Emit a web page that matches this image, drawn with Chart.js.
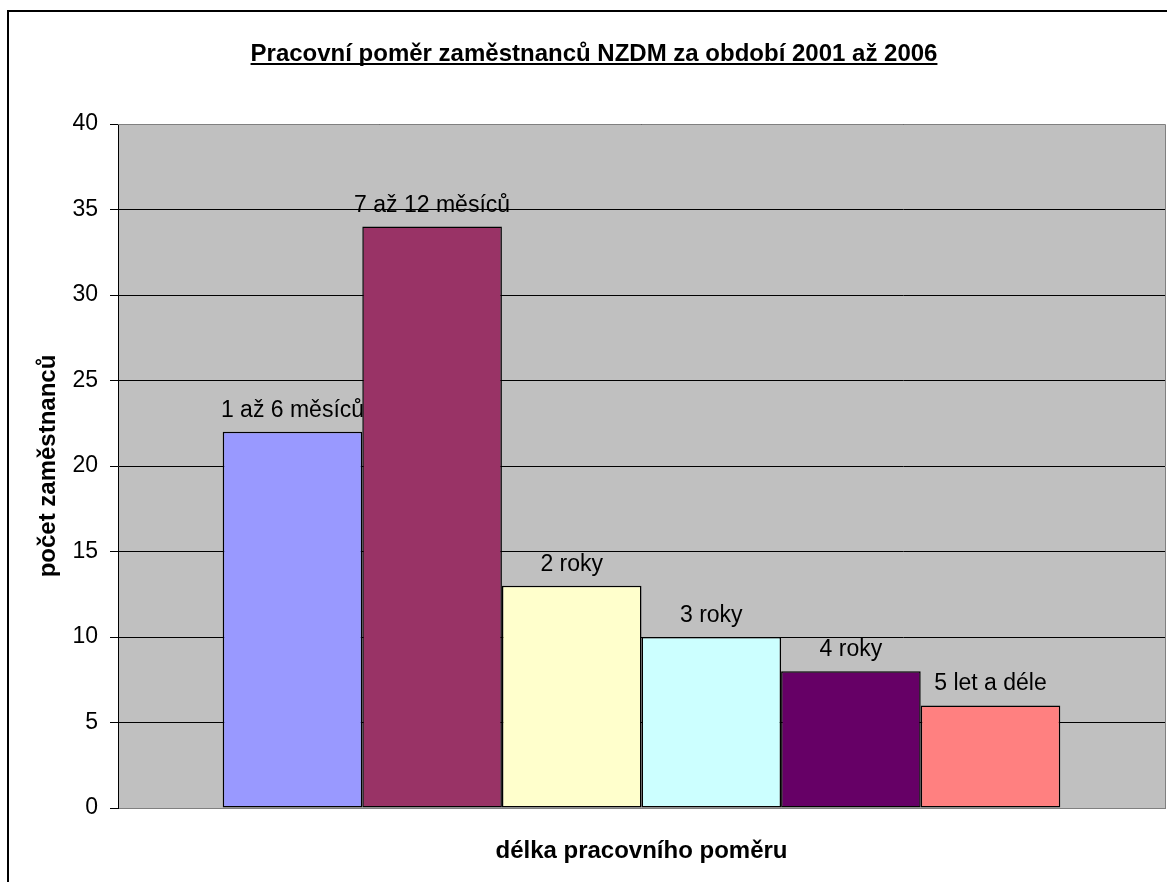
<!DOCTYPE html>
<html>
<head>
<meta charset="utf-8">
<script src="https://cdn.jsdelivr.net/npm/chart.js@4/dist/chart.umd.min.js"></script>
<style>
  html, body { margin: 0; padding: 0; background: #fff; }
  #wrap { width: 1167px; height: 882px; position: relative; }
</style>
</head>
<body>
<div id="wrap"><canvas id="myChart"></canvas></div>
<script>
// data
var seriesNames = ["1 až 6 měsíců", "7 až 12 měsíců", "2 roky", "3 roky", "4 roky", "5 let a déle"]
var seriesValues = [22, 34, 13, 10, 8, 6]
var seriesColors = ["#9999FF", "#993366", "#FFFFCC", "#CCFFFF", "#660066", "#FF8080"]
var yTicks = [0, 5, 10, 15, 20, 25, 30, 35, 40]

var chartTitle = "Pracovní poměr zaměstnanců NZDM za období 2001 až 2006"
var xTitle = "délka pracovního poměru"
var yTitle = "počet zaměstnanců"

var fontFamily = "'Liberation Sans', Arial, sans-serif"

var datasets = []
for (let i = 0; i < seriesNames.length; i++) {
    datasets.push({
        label: seriesNames[i],
        data: [seriesValues[i]],
        backgroundColor: seriesColors[i],
        borderColor: "#000",
        borderWidth: 1.5,
        borderSkipped: false,
        inflateAmount: 0,
        categoryPercentage: 0.8,
        barPercentage: 1
    })
}

// gray plot area, frame, titles and the series names above bars
var excelLook = {
    id: "excelLook",
    beforeDraw(chart) {
        var c = chart.ctx, a = chart.chartArea
        c.save()
        c.fillStyle = "#C0C0C0"
        c.fillRect(a.left, a.top, a.right - a.left, a.bottom - a.top)
        c.restore()
    },
    afterDatasetsDraw(chart) {
        var c = chart.ctx
        c.save()
        c.font = "23px " + fontFamily
        c.fillStyle = "#000"
        c.textAlign = "center"
        c.textBaseline = "alphabetic"
        chart.data.datasets.forEach(function (ds, i) {
            var bar = chart.getDatasetMeta(i).data[0]
            c.fillText(ds.label, bar.x, bar.y - 15)
        })
        c.restore()
    },
    afterDraw(chart) {
        var c = chart.ctx, a = chart.chartArea
        c.save()
        // plot frame (top, right, bottom) in gray
        c.strokeStyle = "#808080"
        c.lineWidth = 1
        c.beginPath()
        c.moveTo(a.left, a.top + 0.5)
        c.lineTo(a.right + 0.5, a.top + 0.5)
        c.lineTo(a.right + 0.5, a.bottom + 0.5)
        c.stroke()
        // outer chart border, cut off at right and bottom
        c.strokeStyle = "#000"
        c.lineWidth = 2
        c.beginPath()
        c.moveTo(8, chart.height)
        c.lineTo(8, 11)
        c.lineTo(chart.width, 11)
        c.stroke()
        // title, underlined
        c.fillStyle = "#000"
        c.font = "bold 24px " + fontFamily
        c.textAlign = "center"
        c.textBaseline = "alphabetic"
        var tx = 594, ty = 61
        c.fillText(chartTitle, tx, ty)
        var w = c.measureText(chartTitle).width
        c.fillRect(tx - w / 2, ty + 2, w, 2)
        // x axis title
        c.fillText(xTitle, (a.left + a.right) / 2, 858)
        // y axis title
        c.translate(55, (a.top + a.bottom) / 2)
        c.rotate(-Math.PI / 2)
        c.fillText(yTitle, 0, 0)
        c.restore()
    }
}

var ctx = document.getElementById("myChart").getContext("2d")
var myChart = new Chart(ctx, {
    type: "bar",
    data: {
        labels: [""],
        datasets: datasets
    },
    options: {
        responsive: true,
        maintainAspectRatio: false,
        animation: false,
        events: [],
        layout: {
            padding: { left: 8, top: 124, right: 2, bottom: 0 }
        },
        plugins: {
            legend: { display: false },
            title: { display: false },
            tooltip: { enabled: false }
        },
        scales: {
            x: {
                grid: { display: false, drawTicks: false },
                border: { display: true, color: "#808080", width: 1 },
                ticks: { display: false },
                afterFit: function (scale) { scale.height = 74 }
            },
            y: {
                min: 0,
                max: 40,
                afterBuildTicks: function (scale) {
                    scale.ticks = yTicks.map(function (v) { return { value: v } })
                },
                grid: {
                    color: "#000",
                    lineWidth: 1,
                    drawTicks: true,
                    tickLength: 8,
                    tickColor: "#000"
                },
                border: { display: true, color: "#000", width: 1 },
                ticks: {
                    color: "#000",
                    padding: 12,
                    font: { family: fontFamily, size: 23 }
                },
                afterFit: function (scale) { scale.width = 110 }
            }
        }
    },
    plugins: [excelLook]
})
</script>
</body>
</html>
